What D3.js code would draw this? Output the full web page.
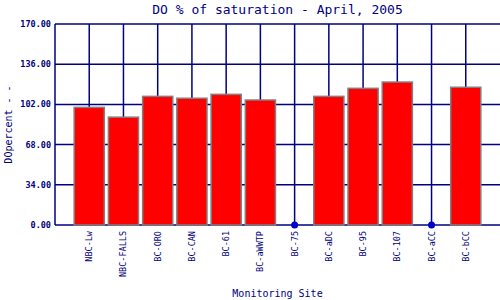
<!DOCTYPE html>
<html>
<head>
<meta charset="utf-8">
<script src="https://cdn.jsdelivr.net/npm/d3@7"></script>
<style>
  body { margin: 0; background: #fff; }
  svg { display: block; }
</style>
</head>
<body>
<svg id="chart" width="500" height="300"></svg>
<script>
// DO % of saturation by site, April 2005 (null = no sample, drawn as a dot at 0)
const sites = ['NBC-Lw', 'NBC-FALLS', 'BC-ORO', 'BC-CAN', 'BC-61', 'BC-aWWTP',
  'BC-75', 'BC-aDC', 'BC-95', 'BC-107', 'BC-aCC', 'BC-bCC'];
const doPercent = [99.5, 91.2, 108.8, 107.2, 110.5, 105.7, null, 108.8, 115.6, 120.9, null, 116.5];
const yTicks = [0, 34, 68, 102, 136, 170];

const navy = '#000080';
const mono = 'DejaVu Sans Mono, monospace';

const svg = d3.select('#chart');
const plot = { left: 55, right: 500, top: 24, bottom: 225 };

const x = d3.scaleLinear().domain([0, sites.length + 1]).range([plot.left, plot.right]);
const y = d3.scaleLinear().domain([0, 170]).range([plot.bottom, plot.top]);
const step = x(1) - x(0);
const barW = step * 0.88;

// gridlines
svg.append('g')
  .selectAll('line')
  .data(yTicks)
  .join('line')
  .attr('x1', plot.left)
  .attr('x2', plot.right)
  .attr('y1', (d) => y(d))
  .attr('y2', (d) => y(d))
  .attr('stroke', navy)
  .attr('stroke-width', 1.5);

svg.append('g')
  .selectAll('line')
  .data(sites)
  .join('line')
  .attr('x1', (d, i) => x(i + 1))
  .attr('x2', (d, i) => x(i + 1))
  .attr('y1', plot.top)
  .attr('y2', plot.bottom)
  .attr('stroke', navy)
  .attr('stroke-width', 1.5);

svg.append('line')
  .attr('x1', plot.left).attr('x2', plot.left)
  .attr('y1', plot.top).attr('y2', plot.bottom)
  .attr('stroke', navy).attr('stroke-width', 1.5);

// bars
svg.append('g')
  .selectAll('rect')
  .data(doPercent.map((v, i) => ({ v, i })).filter((d) => d.v != null))
  .join('rect')
  .attr('x', (d) => x(d.i + 1) - barW / 2)
  .attr('width', barW)
  .attr('y', (d) => y(d.v))
  .attr('height', (d) => y(0) - y(d.v))
  .attr('fill', '#ff0000')
  .attr('stroke', '#808080')
  .attr('stroke-width', 1.5);

// missing samples
svg.append('g')
  .selectAll('circle')
  .data(doPercent.map((v, i) => ({ v, i })).filter((d) => d.v == null))
  .join('circle')
  .attr('cx', (d) => x(d.i + 1))
  .attr('cy', y(0))
  .attr('r', 3.5)
  .attr('fill', '#0000cc');

// y tick labels
svg.append('g')
  .selectAll('text')
  .data(yTicks)
  .join('text')
  .attr('x', plot.left - 4)
  .attr('y', (d) => y(d) + 3)
  .attr('text-anchor', 'end')
  .attr('font-family', mono)
  .attr('font-size', 8.5)
  .attr('font-weight', 'bold')
  .attr('fill', navy)
  .text((d) => d.toFixed(2));

// x tick labels
svg.append('g')
  .selectAll('text')
  .data(sites)
  .join('text')
  .attr('transform', (d, i) => `translate(${x(i + 1) + 3},${plot.bottom + 6}) rotate(-90)`)
  .attr('text-anchor', 'end')
  .attr('font-family', mono)
  .attr('font-size', 8.5)
  .attr('fill', navy)
  .text((d) => d);

// titles
svg.append('text')
  .attr('x', (plot.left + plot.right) / 2)
  .attr('y', 14)
  .attr('text-anchor', 'middle')
  .attr('font-family', mono)
  .attr('font-size', 13)
  .attr('fill', navy)
  .text('DO % of saturation - April, 2005');

svg.append('text')
  .attr('x', (plot.left + plot.right) / 2)
  .attr('y', 297)
  .attr('text-anchor', 'middle')
  .attr('font-family', mono)
  .attr('font-size', 10)
  .attr('fill', navy)
  .text('Monitoring Site');

svg.append('text')
  .attr('transform', `translate(12,${(plot.top + plot.bottom) / 2}) rotate(-90)`)
  .attr('text-anchor', 'middle')
  .attr('font-family', mono)
  .attr('font-size', 10)
  .attr('fill', navy)
  .text('DOpercent - -');
</script>
</body>
</html>
